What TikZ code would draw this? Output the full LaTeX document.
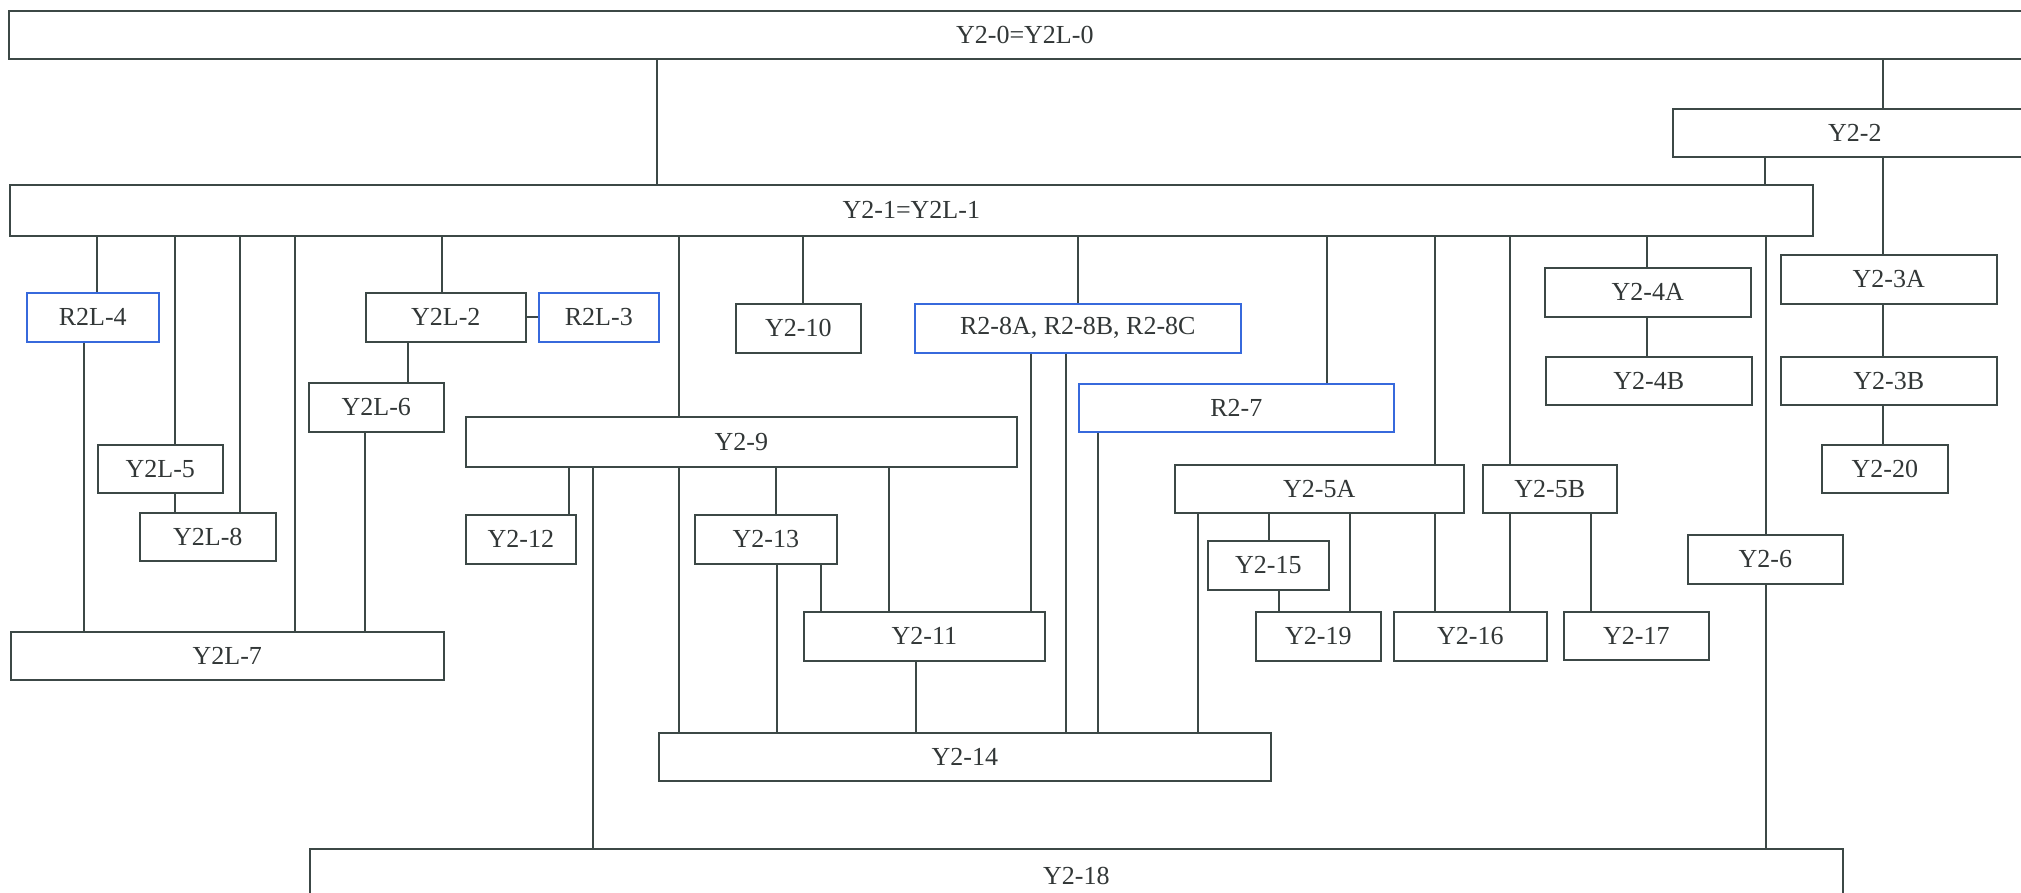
\documentclass[tikz,border=0pt]{standalone}
\usepackage{fontspec}
\setmainfont{Liberation Serif}
\definecolor{linec}{RGB}{60,72,70}
\definecolor{bluec}{RGB}{55,105,220}
\definecolor{textc}{RGB}{50,55,55}
\tikzset{
  gbox/.style={draw=linec, line width=1.6pt, inner sep=0pt, text=textc,
    font=\fontsize{26}{30}\selectfont},
  bbox/.style={gbox, draw=bluec},
  conn/.style={draw=linec, line width=1.6pt}
}
\newcommand\mkbox[7]{\node[#7, minimum width={#4-#2}, minimum height={#5-#3}, anchor=north west] (#1) at (#2,#3) {#6};}
\newcommand\vconn[3]{\coordinate (tmpx) at (#1,0); \draw[conn] (#2.south -| tmpx) -- (#3.north -| tmpx);}
\begin{document}
\begin{tikzpicture}[x=1pt,y=-1pt]
\useasboundingbox (0,0) rectangle (2021,893);
\clip (0,0) rectangle (2021,893);
\fill[white] (0,0) rectangle (2021,893);
\mkbox{Y20}{8}{10}{2040}{58}{Y2-0=Y2L-0}{gbox}
\mkbox{Y21}{9}{184}{1812}{235}{Y2-1=Y2L-1}{gbox}
\mkbox{Y22}{1672}{108}{2036}{156}{Y2-2}{gbox}
\mkbox{R2L4}{26}{292}{158}{341}{R2L-4}{bbox}
\mkbox{Y2L2}{365}{292}{525}{341}{Y2L-2}{gbox}
\mkbox{R2L3}{538}{292}{658}{341}{R2L-3}{bbox}
\mkbox{Y210}{735}{303}{860}{352}{Y2-10}{gbox}
\mkbox{R28}{914}{303}{1240}{352}{R2-8A, R2-8B, R2-8C}{bbox}
\mkbox{Y2L6}{308}{382}{443}{431}{Y2L-6}{gbox}
\mkbox{Y29}{465}{416}{1016}{466}{Y2-9}{gbox}
\mkbox{R27}{1078}{383}{1393}{431}{R2-7}{bbox}
\mkbox{Y24A}{1544}{267}{1750}{316}{Y2-4A}{gbox}
\mkbox{Y24B}{1545}{356}{1751}{404}{Y2-4B}{gbox}
\mkbox{Y23A}{1780}{254}{1996}{303}{Y2-3A}{gbox}
\mkbox{Y23B}{1780}{356}{1996}{404}{Y2-3B}{gbox}
\mkbox{Y220}{1821}{444}{1947}{492}{Y2-20}{gbox}
\mkbox{Y2L5}{97}{444}{222}{492}{Y2L-5}{gbox}
\mkbox{Y2L8}{139}{512}{275}{560}{Y2L-8}{gbox}
\mkbox{Y2L7}{10}{631}{443}{679}{Y2L-7}{gbox}
\mkbox{Y212}{465}{514}{575}{563}{Y2-12}{gbox}
\mkbox{Y213}{694}{514}{836}{563}{Y2-13}{gbox}
\mkbox{Y211}{803}{611}{1044}{660}{Y2-11}{gbox}
\mkbox{Y214}{658}{732}{1270}{780}{Y2-14}{gbox}
\mkbox{Y25A}{1174}{464}{1463}{512}{Y2-5A}{gbox}
\mkbox{Y25B}{1482}{464}{1616}{512}{Y2-5B}{gbox}
\mkbox{Y215}{1207}{540}{1328}{589}{Y2-15}{gbox}
\mkbox{Y219}{1255}{611}{1380}{660}{Y2-19}{gbox}
\mkbox{Y216}{1393}{611}{1546}{660}{Y2-16}{gbox}
\mkbox{Y217}{1563}{611}{1708}{659}{Y2-17}{gbox}
\mkbox{Y26}{1687}{534}{1842}{583}{Y2-6}{gbox}
\mkbox{Y218}{309}{848}{1842}{902}{Y2-18}{gbox}
% connectors
\vconn{657}{Y20}{Y21}
\vconn{1883}{Y20}{Y22}
\vconn{1765}{Y22}{Y21}
\vconn{1883}{Y22}{Y23A}
\vconn{1883}{Y23A}{Y23B}
\vconn{1883}{Y23B}{Y220}
\vconn{1766}{Y21}{Y26}
\vconn{1766}{Y26}{Y218}
\vconn{97}{Y21}{R2L4}
\vconn{84}{R2L4}{Y2L7}
\vconn{175}{Y21}{Y2L5}
\vconn{175}{Y2L5}{Y2L8}
\vconn{240}{Y21}{Y2L8}
\vconn{295}{Y21}{Y2L7}
\vconn{442}{Y21}{Y2L2}
\vconn{408}{Y2L2}{Y2L6}
\vconn{365}{Y2L6}{Y2L7}
\draw[conn] (Y2L2.east) -- (R2L3.west);
\vconn{679}{Y21}{Y29}
\vconn{803}{Y21}{Y210}
\vconn{1078}{Y21}{R28}
\vconn{1327}{Y21}{R27}
\vconn{1435}{Y21}{Y25A}
\vconn{1510}{Y21}{Y25B}
\vconn{1647}{Y21}{Y24A}
\vconn{1647}{Y24A}{Y24B}
\vconn{569}{Y29}{Y212}
\vconn{593}{Y29}{Y218}
\vconn{679}{Y29}{Y214}
\vconn{776}{Y29}{Y213}
\vconn{889}{Y29}{Y211}
\vconn{777}{Y213}{Y214}
\vconn{821}{Y213}{Y211}
\vconn{916}{Y211}{Y214}
\vconn{1031}{R28}{Y211}
\vconn{1066}{R28}{Y214}
\vconn{1098}{R27}{Y214}
\vconn{1198}{Y25A}{Y214}
\vconn{1269}{Y25A}{Y215}
\vconn{1279}{Y215}{Y219}
\vconn{1350}{Y25A}{Y219}
\vconn{1435}{Y25A}{Y216}
\vconn{1510}{Y25B}{Y216}
\vconn{1591}{Y25B}{Y217}
\end{tikzpicture}
\end{document}
